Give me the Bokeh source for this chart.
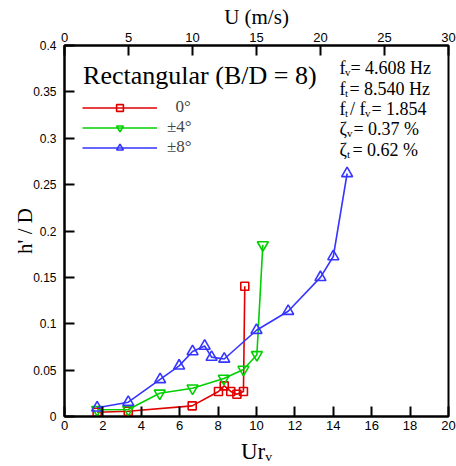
from bokeh.plotting import figure
from bokeh.models import Range1d, LinearAxis, FixedTicker, CustomJSTickFormatter, Label
from bokeh.embed import file_html
from bokeh.resources import INLINE

# ---- data ----
ur_0 = [1.7, 3.32, 6.65, 8.02, 8.32, 8.66, 8.98, 9.32, 9.39]
h_0 = [0.0046, 0.0057, 0.0115, 0.027, 0.033, 0.027, 0.024, 0.027, 0.1405]
ur_4 = [1.7, 3.32, 4.96, 6.67, 8.3, 9.32, 10.02, 10.33]
h_4 = [0.0072, 0.0075, 0.025, 0.0305, 0.041, 0.0507, 0.0665, 0.185]
ur_8 = [1.7, 3.32, 4.98, 5.97, 6.67, 7.3, 7.66, 8.32, 10.0, 11.65, 13.33, 14.0, 14.72]
h_8 = [0.0094, 0.0154, 0.040, 0.0546, 0.070, 0.076, 0.064, 0.062, 0.093, 0.1135, 0.150, 0.1725, 0.262]

series_labels = ["\u00a0\u00a00\u00b0", "\u00b14\u00b0", "\u00b18\u00b0"]
series_colors = ["#e00000", "#00d000", "#3535ff"]
series_markers = ["square", "inverted_triangle", "triangle"]

x_ticks = [0, 2, 4, 6, 8, 10, 12, 14, 16, 18, 20]
y_ticks = [0, 0.05, 0.1, 0.15, 0.2, 0.25, 0.3, 0.35, 0.4]
u_ticks = [0, 5, 10, 15, 20, 25, 30]

SERIF = "Liberation Serif"
SANS = "Liberation Sans"

p = figure(width=456, height=466, x_range=Range1d(0, 20), y_range=Range1d(0, 0.4),
           output_backend="svg", toolbar_location=None,
           min_border_left=64, min_border_right=8, min_border_top=45, min_border_bottom=50)
p.xgrid.visible = False
p.ygrid.visible = False
p.outline_line_color = "black"
p.outline_line_width = 2
p.outline_line_alpha = 1
p.background_fill_color = "white"

p.extra_x_ranges = {"u": Range1d(0, 30)}
top = LinearAxis(x_range_name="u", ticker=FixedTicker(ticks=u_ticks))
p.add_layout(top, "above")

bottom = p.below[0]
left = p.left[0]
bottom.ticker = FixedTicker(ticks=x_ticks)
left.ticker = FixedTicker(ticks=y_ticks)
left.formatter = CustomJSTickFormatter(code="return String(tick);")

for ax in [bottom, left, top]:
    ax.axis_line_width = 2
    ax.major_tick_line_width = 2
    ax.major_tick_in = 10
    ax.major_tick_out = 0
    ax.minor_tick_line_color = None
    ax.major_label_text_font = SANS
    ax.major_label_text_color = "black"
    ax.axis_label_text_font = SERIF
    ax.axis_label_text_font_style = "normal"
    ax.axis_label_text_color = "black"

bottom.major_label_text_font_size = "13px"
bottom.major_label_standoff = 4
bottom.axis_label = "Ur\u1d65"
bottom.axis_label_text_font_size = "23px"
bottom.axis_label_standoff = 6

top.major_label_text_font_size = "13px"
top.major_label_standoff = 4
top.axis_label = "U (m/s)"
top.axis_label_text_font_size = "21px"
top.axis_label_standoff = 1

left.major_label_text_font_size = "12px"
left.major_label_standoff = 8
left.axis_label = "h' / D"
left.axis_label_text_font_size = "21px"
left.axis_label_standoff = -7

for xs, ys, lab, col, mk in zip([ur_0, ur_4, ur_8], [h_0, h_4, h_8], series_labels,
                                 series_colors, series_markers):
    p.line(xs, ys, line_color=col, line_width=1.6, legend_label=lab)
    p.scatter(xs, ys, marker=mk, size=(8 if mk == "square" else 11), line_color=col,
              line_width=1.6, fill_alpha=0, legend_label=lab)

lg = p.legend[0]
lg.location = (18, 259)
lg.glyph_width = 75
lg.glyph_height = 17
lg.label_height = 17
lg.spacing = 0
lg.padding = 0
lg.margin = 0
lg.label_standoff = 10
lg.border_line_color = None
lg.background_fill_alpha = 0
lg.label_text_font = SERIF
lg.label_text_font_size = "17px"


def lab(x, y, text, size, dx=0, align="left"):
    p.add_layout(Label(x=x, y=y, x_offset=dx, text=text, text_font=SERIF,
                       text_font_size=f"{size}px", text_align=align,
                       text_baseline="alphabetic", text_color="black"))


# title
lab(0.97, 0.3677, "Rectangular (B/D = 8)", 26)

# parameter block
x0 = 14.32
sub_dy = 0.0042
rows = [0.376, 0.3534, 0.3318, 0.3095, 0.2876]
fs = 18
lab(x0, rows[0], "f", fs)
lab(x0, rows[0] - sub_dy, "v", 11, dx=5.5)
lab(x0, rows[0], "= 4.608 Hz", fs, dx=11)
lab(x0, rows[1], "f", fs)
lab(x0, rows[1] - sub_dy, "t", 11, dx=5.5)
lab(x0, rows[1], "= 8.540 Hz", fs, dx=10)
lab(x0, rows[2], "f", fs)
lab(x0, rows[2] - sub_dy, "t", 11, dx=5.5)
lab(x0, rows[2], "/ f", fs, dx=10.5)
lab(x0, rows[2] - sub_dy, "v", 11, dx=25.5)
lab(x0, rows[2], "= 1.854", fs, dx=32)
lab(x0, rows[3], "\u03b6", fs)
lab(x0, rows[3] - sub_dy, "v", 11, dx=7.5)
lab(x0, rows[3], "= 0.37 %", fs, dx=14)
lab(x0, rows[4], "\u03b6", fs)
lab(x0, rows[4] - sub_dy, "t", 11, dx=7.5)
lab(x0, rows[4], "= 0.62 %", fs, dx=13)

open("out.html", "w").write(file_html(p, INLINE))
